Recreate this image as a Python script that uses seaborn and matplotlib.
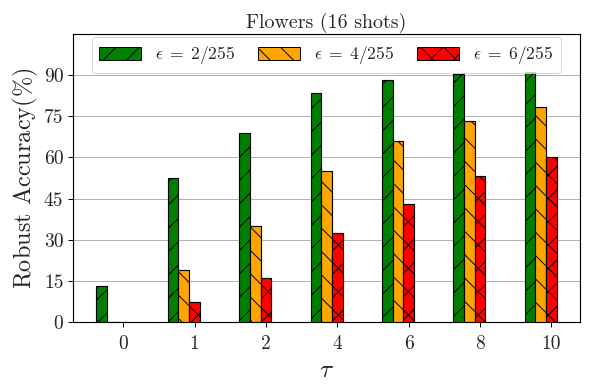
"""
grouped bar chart of robust accuracy vs tau for three epsilon budgets
"""

import numpy as np
import pandas as pd
import matplotlib
matplotlib.use("Agg")
import matplotlib.pyplot as plt
import matplotlib.patches as mpatches
import seaborn as sns

taus = ["0", "1", "2", "4", "6", "8", "10"]
eps_labels = [r"$\epsilon\;=\;2/255$", r"$\epsilon\;=\;4/255$", r"$\epsilon\;=\;6/255$"]
acc_eps2 = [13.2, 52.4, 69.0, 83.4, 88.3, 90.3, 91.2]
acc_eps4 = [0.0, 19.0, 35.2, 55.2, 66.1, 73.2, 78.2]
acc_eps6 = [0.0, 7.3, 16.0, 32.3, 43.1, 53.3, 60.3]
yticks = [0, 15, 30, 45, 60, 75, 90]

colors = ["green", "orange", "red"]
hatches = ["/", "\\", "x"]

sns.set_style("ticks")
plt.rcParams["font.family"] = "cmr10"
plt.rcParams["mathtext.fontset"] = "cm"
plt.rcParams["axes.unicode_minus"] = False
plt.rcParams["axes.formatter.use_mathtext"] = True

df = pd.DataFrame({
    "tau": taus * 3,
    "eps": np.repeat(eps_labels, len(taus)),
    "acc": acc_eps2 + acc_eps4 + acc_eps6,
})

fig, ax = plt.subplots(figsize=(590 / 70, 390 / 70), dpi=70)
sns.barplot(data=df, x="tau", y="acc", hue="eps", palette=colors, width=0.45,
            edgecolor="black", linewidth=1.2, saturation=1, errorbar=None,
            legend=False, ax=ax, zorder=3)

# shift groups so the last bar sits on the tick, add hatches
for cont, h in zip(ax.containers, hatches):
    for p in cont.patches:
        p.set_x(p.get_x() - 0.15)
        p.set_hatch(h)

ax.set_xlim(-0.7, 6.4)
ax.set_ylim(0, 105)
ax.set_yticks(yticks)
ax.set_yticklabels([str(t) for t in yticks])
ax.yaxis.grid(True, color="#b0b0b0", linewidth=1.0, zorder=0)
ax.set_axisbelow(True)
ax.tick_params(labelsize=20, length=5, width=1.0, color="black")
ax.tick_params(axis="x", pad=8)
ax.tick_params(axis="y", pad=5)
for s in ax.spines.values():
    s.set_visible(True)
    s.set_color("black")
    s.set_linewidth(1.2)

ax.set_xlabel(r"$\tau$", fontsize=26, labelpad=7)
ax.set_ylabel(r"Robust Accuracy$(\%)$", fontsize=25, labelpad=4)
ax.set_title("Flowers (16 shots)", fontsize=20.5, pad=6)

handles = [mpatches.Patch(facecolor=c, edgecolor="black", hatch=h, label=l)
           for c, h, l in zip(colors, hatches, eps_labels)]
ax.legend(handles=handles, loc="upper center", ncol=3, fontsize=18,
          handlelength=2.4, handleheight=0.75, columnspacing=1.3,
          handletextpad=0.8, frameon=True, fancybox=True,
          edgecolor="#cccccc", framealpha=0.8, borderaxespad=0.2)

fig.subplots_adjust(left=0.124, right=0.983, top=0.913, bottom=0.174)
plt.savefig("out.png", dpi=70)
